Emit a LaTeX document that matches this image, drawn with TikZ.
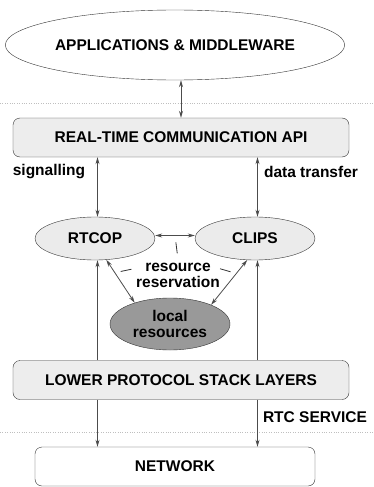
\documentclass[tikz,border=0pt]{standalone}
\usepackage{fontspec}
\setmainfont{Liberation Sans}
\usetikzlibrary{shapes.geometric, arrows.meta, positioning, calc}

\begin{document}
\begin{tikzpicture}[x=1pt, y=-1pt,
    >={Stealth[length=7pt,width=4pt]},
    txt/.style={font=\fontsize{15.5}{16}\selectfont\bfseries, align=center},
    layer/.style={txt, draw=black!80, rounded corners=7pt, minimum height=39pt, inner sep=0pt},
    proto/.style={txt, ellipse, draw=black!80, fill=black!8, minimum width=120pt, minimum height=43pt, inner sep=0pt},
    link/.style={line width=0.8pt, black!70},
    resline/.style={black!80, line width=0.8pt, dash pattern=on 11pt off 20pt}]
\useasboundingbox (0,0) rectangle (373,487);

% page break marks
\foreach \y in {103,432}
    \draw[black!25, dotted] (0,\y) -- (373,\y);

% layers
\node[txt, ellipse, draw=black!80, minimum width=280pt, minimum height=70pt, inner sep=0pt] (apps) at (175,45) {APPLICATIONS \& MIDDLEWARE};
\node[layer, fill=black!7, minimum width=336pt] (api) at (181,137.5) {REAL-TIME COMMUNICATION API};
\node[proto] (rtcop) at (95,238.5) {RTCOP};
\node[proto] (clips) at (255,238.5) {CLIPS};
\node[txt, ellipse, draw=black!80, fill=black!40, minimum width=120pt, minimum height=52pt, inner sep=0pt] (local) at (170,324) {local\\resources};
\node[layer, fill=black!7, minimum width=336pt] (lower) at (181,380) {LOWER PROTOCOL STACK LAYERS};
\node[layer, fill=white, minimum width=280pt] (net) at (175,466.5) {NETWORK};

% labels
\node[txt] (sig) at (49,172) {signalling};
\node[txt] (data) at (311,172) {data transfer};
\node[txt] (rtc) at (315,417) {RTC SERVICE};
\node[txt] (resv) at (178,275) {resource\\reservation};

% connectors
\draw[link, <->] (apps.south -| api.north) -- (api.north);
\draw[link, <->] ([xshift=2.5pt]rtcop.north |- api.south) -- ([xshift=2.5pt]rtcop.north);
\draw[link, <->] ([xshift=2.5pt]clips.north |- api.south) -- ([xshift=2.5pt]clips.north);
\draw[link, <->] ([yshift=3pt]rtcop.east) -- ([yshift=3pt]clips.west);
\draw[link, <->] (rtcop.298) -- (local.149);
\draw[link, <->] (clips.250) -- (local.25);
\draw[link, ->] ([xshift=2.5pt]rtcop.south |- lower.north) -- ([xshift=2.5pt]rtcop.south);
\draw[link, ->] ([xshift=2.5pt]clips.south |- lower.north) -- ([xshift=2.5pt]clips.south);
\draw[link, ->] ([xshift=2.5pt]rtcop.south |- lower.south) -- ([xshift=2.5pt]rtcop.south |- net.north);
\draw[link, ->] ([xshift=2.5pt]clips.south |- lower.south) -- ([xshift=2.5pt]clips.south |- net.north);

% resource reservation marks
\draw[resline, shorten <=7pt] ($(rtcop.east)!0.5!(clips.west)+(0,-3)$) -- (resv.north);
\draw[resline, shorten <=6pt] ($(rtcop.298)!0.3!(local.149)$) -- ($(resv.center)+(-36,-8)$);
\draw[resline, shorten <=6pt] ($(clips.250)!0.3!(local.25)$) -- ($(resv.center)+(36,-8)$);
\end{tikzpicture}
\end{document}
